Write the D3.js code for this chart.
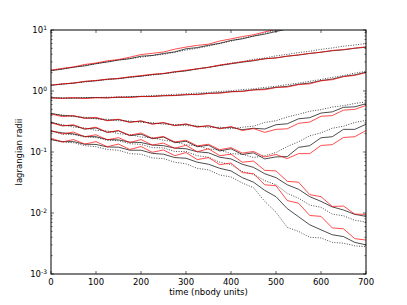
<!DOCTYPE html>
<html>
<head>
<meta charset="utf-8">
<script src="https://cdn.jsdelivr.net/npm/d3@7"></script>
<style>
  body { margin: 0; background: #fff; }
  text { font-family: "DejaVu Sans", sans-serif; }
</style>
</head>
<body>
<div id="chart"></div>
<script>
// time samples (nbody units)
const time = [0,25,50,75,100,125,150,175,200,225,250,275,300,325,350,375,400,425,450,475,500,525,550,575,600,625,650,675,700];

// lagrangian radii, outermost (A) to innermost (G); three runs each
const radiiA_red    = [2.2,2.35,2.48,2.72,2.88,3.12,3.28,3.58,3.95,4.15,4.35,4.85,5.25,5.6,5.85,6.6,7.15,7.8,8.35,9.3,10.3,11,12,12.8,13.5,14,15,16,17];
const radiiA_black  = [2.15,2.28,2.46,2.58,2.82,2.98,3.22,3.38,3.72,3.82,4.12,4.38,4.92,5.15,5.62,6.05,6.75,7.15,7.95,8.55,9.45,10.4,11.2,12,13,13.8,14.5,15.5,16.5];
const radiiA_dotted = [2.2,2.32,2.44,2.66,2.78,3.06,3.22,3.42,3.58,3.82,3.98,4.32,4.68,5.02,5.45,6.02,6.55,7.35,7.95,8.95,9.85,10.8,11.8,12.6,13.4,14.2,15,16,17];

const radiiB_red    = [1.25,1.31,1.35,1.44,1.49,1.56,1.61,1.71,1.79,1.88,1.94,2.07,2.19,2.31,2.44,2.67,2.83,3.02,3.18,3.38,3.48,3.72,3.92,4.14,4.32,4.62,4.78,5.04,5.3];
const radiiB_black  = [1.24,1.3,1.34,1.43,1.47,1.56,1.59,1.69,1.75,1.86,1.92,2.06,2.14,2.31,2.44,2.62,2.79,2.97,3.13,3.37,3.49,3.72,3.88,4.12,4.33,4.57,4.73,5.02,5.22];
const radiiB_dotted = [1.25,1.29,1.36,1.4,1.48,1.53,1.61,1.66,1.76,1.82,1.93,2.01,2.16,2.28,2.46,2.63,2.86,3.03,3.31,3.48,3.77,3.98,4.27,4.48,4.82,5.08,5.42,5.68,6.0];

const radiiC_red    = [0.77,0.755,0.78,0.75,0.775,0.77,0.8,0.78,0.81,0.81,0.84,0.84,0.88,0.87,0.91,0.92,0.97,0.98,1.04,1.05,1.14,1.16,1.27,1.31,1.47,1.53,1.72,1.8,2.0];
const radiiC_black  = [0.775,0.765,0.765,0.77,0.782,0.775,0.785,0.795,0.815,0.815,0.835,0.845,0.865,0.885,0.915,0.935,0.975,0.995,1.045,1.08,1.15,1.19,1.29,1.35,1.48,1.57,1.73,1.84,2.03];
const radiiC_dotted = [0.77,0.772,0.768,0.782,0.778,0.792,0.798,0.812,0.818,0.842,0.858,0.884,0.896,0.924,0.946,0.984,1.006,1.055,1.085,1.145,1.195,1.275,1.345,1.445,1.545,1.675,1.79,1.96,2.1];

const radiiD_red    = [0.42,0.38,0.395,0.355,0.37,0.325,0.345,0.305,0.325,0.285,0.305,0.27,0.29,0.255,0.27,0.24,0.262,0.225,0.242,0.21,0.235,0.24,0.295,0.31,0.385,0.395,0.485,0.5,0.58];
const radiiD_black  = [0.43,0.395,0.39,0.36,0.36,0.33,0.34,0.31,0.32,0.29,0.3,0.272,0.285,0.26,0.268,0.244,0.255,0.232,0.245,0.238,0.28,0.29,0.35,0.365,0.435,0.455,0.54,0.55,0.62];
const radiiD_dotted = [0.42,0.405,0.38,0.372,0.348,0.345,0.325,0.323,0.305,0.303,0.285,0.283,0.27,0.268,0.25,0.255,0.24,0.255,0.265,0.305,0.325,0.375,0.415,0.465,0.495,0.545,0.575,0.625,0.66];

const radiiE_red    = [0.30,0.268,0.28,0.237,0.255,0.21,0.225,0.188,0.205,0.168,0.18,0.146,0.156,0.126,0.134,0.109,0.118,0.096,0.102,0.083,0.091,0.078,0.094,0.094,0.128,0.132,0.173,0.178,0.225];
const radiiE_black  = [0.31,0.27,0.272,0.238,0.248,0.21,0.222,0.185,0.196,0.165,0.176,0.142,0.15,0.122,0.129,0.104,0.113,0.091,0.097,0.077,0.083,0.084,0.119,0.127,0.171,0.178,0.235,0.235,0.285];
const radiiE_dotted = [0.30,0.283,0.255,0.248,0.226,0.222,0.2,0.193,0.176,0.172,0.156,0.148,0.131,0.127,0.112,0.108,0.094,0.092,0.081,0.087,0.098,0.123,0.147,0.184,0.206,0.245,0.265,0.305,0.33];

const radiiF_red    = [0.225,0.198,0.212,0.178,0.192,0.158,0.172,0.143,0.16,0.13,0.14,0.115,0.129,0.101,0.113,0.087,0.092,0.068,0.071,0.05,0.049,0.033,0.032,0.02,0.0185,0.0128,0.013,0.0096,0.0095];
const radiiF_black  = [0.22,0.206,0.198,0.18,0.178,0.16,0.158,0.145,0.143,0.13,0.127,0.116,0.113,0.101,0.097,0.082,0.077,0.063,0.056,0.044,0.038,0.029,0.0245,0.0185,0.0155,0.0126,0.0112,0.0095,0.0088];
const radiiF_dotted = [0.22,0.196,0.193,0.176,0.173,0.156,0.153,0.137,0.133,0.118,0.117,0.102,0.102,0.087,0.082,0.068,0.062,0.048,0.043,0.034,0.029,0.021,0.0175,0.0135,0.0124,0.0096,0.009,0.0076,0.0071];

const radiiG_red    = [0.168,0.146,0.16,0.135,0.148,0.122,0.135,0.11,0.123,0.099,0.108,0.087,0.098,0.075,0.081,0.062,0.066,0.046,0.044,0.029,0.028,0.016,0.0145,0.0091,0.0088,0.0057,0.0055,0.0038,0.0036];
const radiiG_black  = [0.16,0.148,0.148,0.134,0.133,0.121,0.12,0.107,0.107,0.095,0.092,0.081,0.079,0.068,0.063,0.054,0.049,0.038,0.032,0.0235,0.0185,0.0118,0.0087,0.0064,0.0053,0.0044,0.0041,0.0033,0.003];
const radiiG_dotted = [0.16,0.146,0.142,0.127,0.122,0.11,0.107,0.094,0.092,0.08,0.078,0.068,0.064,0.054,0.051,0.042,0.039,0.031,0.026,0.0155,0.0103,0.0058,0.005,0.004,0.0039,0.0033,0.0032,0.0029,0.0028];

const xTicks = [0,100,200,300,400,500,600,700];
const yTickExp = [1,0,-1,-2,-3];

const dottedRuns = [radiiA_dotted, radiiB_dotted, radiiC_dotted, radiiD_dotted, radiiE_dotted, radiiF_dotted, radiiG_dotted];
const blackRuns  = [radiiA_black, radiiB_black, radiiC_black, radiiD_black, radiiE_black, radiiF_black, radiiG_black];
const redRuns    = [radiiA_red, radiiB_red, radiiC_red, radiiD_red, radiiE_red, radiiF_red, radiiG_red];

const W = 407, H = 305;
const margin = { top: 30, right: 41, bottom: 31, left: 51 };
const width = W - margin.left - margin.right;
const height = H - margin.top - margin.bottom;

const svg = d3.select("#chart").append("svg")
  .attr("width", W).attr("height", H);

const g = svg.append("g")
  .attr("transform", `translate(${margin.left},${margin.top})`);

const x = d3.scaleLinear().domain([0, 700]).range([0, width]);
const y = d3.scaleLog().domain([1e-3, 10]).range([height, 0]);

g.append("clipPath").attr("id", "clip")
  .append("rect").attr("width", width).attr("height", height);

const line = d3.line()
  .x((d, i) => x(time[i]))
  .y(d => y(d));

const plot = g.append("g").attr("clip-path", "url(#clip)");

dottedRuns.forEach(r => plot.append("path").datum(r)
  .attr("d", line).attr("fill", "none")
  .attr("stroke", "#000").attr("stroke-width", 0.7)
  .attr("stroke-dasharray", "1,1.5"));
blackRuns.forEach(r => plot.append("path").datum(r)
  .attr("d", line).attr("fill", "none")
  .attr("stroke", "#000").attr("stroke-width", 0.7));
redRuns.forEach(r => plot.append("path").datum(r)
  .attr("d", line).attr("fill", "none")
  .attr("stroke", "#ff0000").attr("stroke-width", 0.7));

// frame
g.append("rect").attr("width", width).attr("height", height)
  .attr("fill", "none").attr("stroke", "#000").attr("stroke-width", 1);

// inward ticks on all four sides
const ticks = g.append("g").attr("stroke", "#000").attr("stroke-width", 0.6);
xTicks.forEach(t => {
  ticks.append("line").attr("x1", x(t)).attr("x2", x(t)).attr("y1", height).attr("y2", height - 3);
  ticks.append("line").attr("x1", x(t)).attr("x2", x(t)).attr("y1", 0).attr("y2", 3);
});
const minor = [];
for (let e = -3; e < 1; e++) for (let m = 2; m <= 9; m++) minor.push(m * Math.pow(10, e));
minor.forEach(v => {
  ticks.append("line").attr("x1", 0).attr("x2", 1.5).attr("y1", y(v)).attr("y2", y(v));
  ticks.append("line").attr("x1", width).attr("x2", width - 1.5).attr("y1", y(v)).attr("y2", y(v));
});
yTickExp.forEach(e => {
  const v = Math.pow(10, e);
  ticks.append("line").attr("x1", 0).attr("x2", 3).attr("y1", y(v)).attr("y2", y(v));
  ticks.append("line").attr("x1", width).attr("x2", width - 3).attr("y1", y(v)).attr("y2", y(v));
});

// tick labels
xTicks.forEach(t => g.append("text")
  .attr("x", x(t)).attr("y", height + 11)
  .attr("text-anchor", "middle").attr("font-size", 8.5).text(t));

yTickExp.forEach(e => {
  const tx = g.append("text")
    .attr("x", -4).attr("y", y(Math.pow(10, e)) + 3)
    .attr("text-anchor", "end").attr("font-size", 8.5);
  tx.append("tspan").text("10");
  tx.append("tspan").attr("dy", -3.5).attr("font-size", 6).text(e);
});

// axis labels
g.append("text").attr("x", width / 2).attr("y", height + 20.5)
  .attr("text-anchor", "middle").attr("font-size", 8.5)
  .text("time (nbody units)");
g.append("text")
  .attr("transform", `translate(${-29},${height / 2}) rotate(-90)`)
  .attr("text-anchor", "middle").attr("font-size", 8.5)
  .text("lagrangian radii");
</script>
</body>
</html>
